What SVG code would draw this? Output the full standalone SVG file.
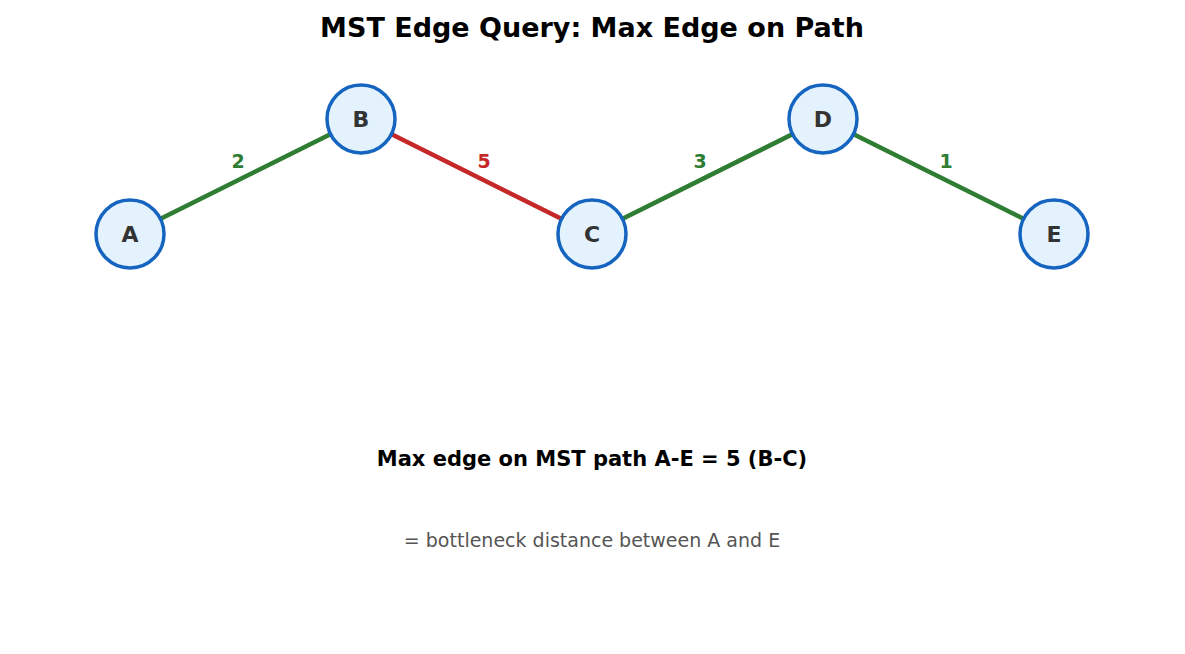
<svg xmlns="http://www.w3.org/2000/svg" width="1185" height="654" viewBox="0 0 1185 654">
<style>
text{font-family:"DejaVu Sans",sans-serif;text-anchor:middle}
.n circle{fill:#E3F2FD;stroke:#1565C0;stroke-width:3.5}
.n text{font-size:22px;font-weight:bold;fill:#333}
.e{stroke-width:4.5;stroke-linecap:butt}
.g{stroke:#2E7D32}.r{stroke:#C62828}
.lbl{font-size:19px;font-weight:bold}
</style>
<rect width="1185" height="654" fill="#fff"/>
<text x="592" y="37" font-size="27" font-weight="bold" fill="#000">MST Edge Query: Max Edge on Path</text>
<g id="connectors">
<line class="e g" x1="130" y1="234" x2="361" y2="119"/>
<line class="e r" x1="361" y1="119" x2="592" y2="234"/>
<line class="e g" x1="592" y1="234" x2="823" y2="119"/>
<line class="e g" x1="823" y1="119" x2="1054" y2="234"/>
<text class="lbl" x="238" y="168" fill="#2E7D32">2</text>
<text class="lbl" x="484" y="168" fill="#C62828">5</text>
<text class="lbl" x="700" y="168" fill="#2E7D32">3</text>
<text class="lbl" x="946" y="168" fill="#2E7D32">1</text>
</g>
<g id="A" class="n"><circle cx="130" cy="234" r="34"/><text x="130" y="242">A</text></g>
<g id="B" class="n"><circle cx="361" cy="119" r="34"/><text x="361" y="127">B</text></g>
<g id="C" class="n"><circle cx="592" cy="234" r="34"/><text x="592" y="242">C</text></g>
<g id="D" class="n"><circle cx="823" cy="119" r="34"/><text x="823" y="127">D</text></g>
<g id="E" class="n"><circle cx="1054" cy="234" r="34"/><text x="1054" y="242">E</text></g>
<text x="592" y="466" font-size="21" font-weight="bold" fill="#000">Max edge on MST path A-E = 5 (B-C)</text>
<text x="592" y="547" font-size="19" fill="#555">= bottleneck distance between A and E</text>
</svg>
